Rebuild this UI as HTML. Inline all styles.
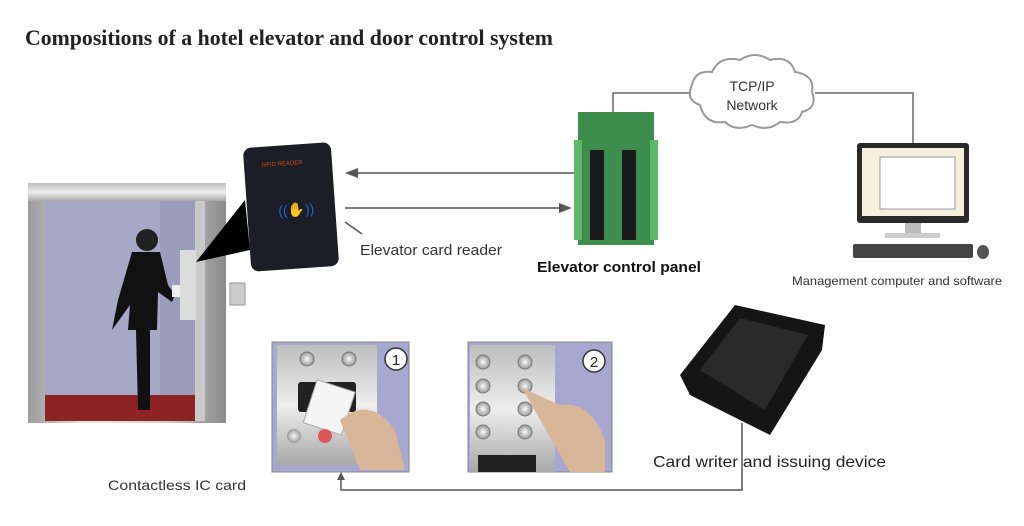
<!DOCTYPE html>
<html><head><meta charset="utf-8"><style>
html,body{margin:0;padding:0;background:#fff;}
svg{display:block;}
text{font-family:"Liberation Sans",sans-serif;}
</style></head><body>
<svg width="1024" height="526" viewBox="0 0 1024 526" xmlns="http://www.w3.org/2000/svg">
<defs>
<linearGradient id="steel" x1="0" x2="1"><stop offset="0" stop-color="#9a9a9a"/><stop offset="0.3" stop-color="#e8e8e8"/><stop offset="0.7" stop-color="#cfcfcf"/><stop offset="1" stop-color="#8a8a8a"/></linearGradient>
<linearGradient id="steelv" x1="0" y1="0" x2="0" y2="1"><stop offset="0" stop-color="#bdbdbd"/><stop offset="0.5" stop-color="#eeeeee"/><stop offset="1" stop-color="#a8a8a8"/></linearGradient>
<radialGradient id="btn"><stop offset="0" stop-color="#fafafa"/><stop offset="1" stop-color="#999"/></radialGradient>
</defs>
<text x="25" y="45" font-weight="bold" font-size="21.8" fill="#222" style="font-family:'Liberation Serif',serif">Compositions of a hotel elevator and door control system</text>

<rect x="28" y="183" width="198" height="240" fill="url(#steel)"/>
<rect x="28" y="183" width="198" height="18" fill="url(#steelv)"/>
<rect x="45" y="201" width="160" height="220" fill="#a7a7c6"/>
<rect x="160" y="201" width="45" height="200" fill="#9b9bbb"/>
<polygon points="45,395 205,395 205,421 45,421" fill="#8e2323"/>
<rect x="195" y="201" width="10" height="220" fill="#c9c9c9"/>
<circle cx="147" cy="240" r="11" fill="#222"/>
<path d="M132 252 L160 252 L168 285 L175 295 L172 302 L158 292 L157 330 L150 330 L150 410 L138 410 L136 330 L128 330 L130 305 L112 330 L118 300 Z" fill="#111"/>
<rect x="180" y="250" width="16" height="70" fill="#dcdcdc"/>
<rect x="172" y="285" width="8" height="12" fill="#eee"/>
<rect x="230" y="283" width="15" height="22" fill="#ccc" stroke="#999"/>
<polygon points="196,262 245,200 250,250" fill="#000"/>
<g transform="rotate(-4 290 207)">
<rect x="247" y="145" width="88" height="124" rx="8" fill="#1b1e26"/>
<text x="265" y="165" font-size="6" fill="#d05010">RFID READER</text>
<text x="278" y="215" font-size="14" fill="#2a5fd0">((✋))</text>
</g>
<line x1="575" y1="173" x2="356" y2="173" stroke="#555" stroke-width="1.5"/>
<polygon points="345,173 358,168 358,178" fill="#555"/>
<line x1="345" y1="208" x2="560" y2="208" stroke="#555" stroke-width="1.5"/>
<polygon points="572,208 559,203 559,213" fill="#555"/>
<line x1="345" y1="222" x2="362" y2="234" stroke="#555" stroke-width="1.5"/>
<text x="360" y="255" font-size="14.8" fill="#333" textLength="142" lengthAdjust="spacingAndGlyphs">Elevator card reader</text>
<rect x="578" y="112" width="76" height="133" fill="#3d8e4d"/>
<rect x="574" y="140" width="8" height="100" fill="#5fb86a"/>
<rect x="650" y="140" width="8" height="100" fill="#5fb86a"/>
<g fill="#1a1a1a"><rect x="590" y="150" width="14" height="90"/><rect x="622" y="150" width="14" height="90"/></g>
<text x="537" y="272" font-size="14.8" font-weight="bold" fill="#111" textLength="164" lengthAdjust="spacingAndGlyphs">Elevator control panel</text>
<polyline points="613,112 613,93 690,93" fill="none" stroke="#666" stroke-width="1.5"/>
<polyline points="815,93 913,93 913,143" fill="none" stroke="#666" stroke-width="1.5"/>
<path d="M700 105 Q685 100 692 85 Q695 70 712 72 Q720 55 740 60 Q755 50 770 60 Q790 55 795 72 Q815 75 812 92 Q818 108 802 112 Q798 125 780 122 Q768 132 752 125 Q735 132 725 122 Q705 125 700 105 Z" fill="#fff" stroke="#999" stroke-width="2"/>
<text x="752" y="91" font-size="14" fill="#333" text-anchor="middle">TCP/IP</text>
<text x="752" y="110" font-size="14" fill="#333" text-anchor="middle">Network</text>
<rect x="857" y="143" width="112" height="80" rx="3" fill="#2a2a2a"/>
<rect x="862" y="148" width="102" height="68" fill="#f4f0dc"/>
<rect x="880" y="157" width="75" height="52" fill="#fff" stroke="#99a"/>
<rect x="905" y="223" width="16" height="12" fill="#bbb"/>
<rect x="885" y="233" width="55" height="5" fill="#ccc"/>
<rect x="853" y="244" width="120" height="14" rx="2" fill="#444"/>
<ellipse cx="983" cy="252" rx="6" ry="7" fill="#555"/>
<text x="792" y="285" font-size="12.4" fill="#333" textLength="210" lengthAdjust="spacingAndGlyphs">Management computer and software</text>
<rect x="272" y="342" width="137" height="130" fill="#a7a7cf" stroke="#888"/>
<rect x="277" y="345" width="100" height="120" fill="url(#steelv)"/>
<circle cx="307" cy="359" r="7" fill="url(#btn)" stroke="#777"/><circle cx="349" cy="359" r="7" fill="url(#btn)" stroke="#777"/>
<rect x="298" y="382" width="58" height="30" rx="3" fill="#222"/>
<rect x="310" y="385" width="40" height="45" fill="#f5f5f5" stroke="#aaa" transform="rotate(18 330 405)"/>
<circle cx="294" cy="436" r="7" fill="url(#btn)"/><circle cx="325" cy="436" r="7" fill="#d55"/>
<path d="M340 420 Q370 395 395 430 L405 470 L360 470 Z" fill="#d8b69a"/>
<circle cx="396" cy="359" r="11" fill="#fff" stroke="#333" stroke-width="1.5"/>
<text x="396" y="365" font-size="15" text-anchor="middle" fill="#222">1</text>
<rect x="468" y="342" width="144" height="130" fill="#a7a7cf" stroke="#888"/>
<rect x="470" y="345" width="85" height="127" fill="url(#steelv)"/>
<g fill="url(#btn)" stroke="#777">
<circle cx="483" cy="362" r="7"/><circle cx="525" cy="362" r="7"/><circle cx="483" cy="386" r="7"/><circle cx="525" cy="386" r="7"/><circle cx="483" cy="409" r="7"/><circle cx="525" cy="409" r="7"/><circle cx="483" cy="432" r="7"/><circle cx="525" cy="432" r="7"/></g>
<rect x="478" y="455" width="58" height="17" fill="#222"/>
<path d="M522 388 L560 405 Q590 400 605 440 L605 472 L570 472 Z" fill="#d8b69a"/>
<circle cx="594" cy="361" r="11" fill="#fff" stroke="#333" stroke-width="1.5"/>
<text x="594" y="367" font-size="15" text-anchor="middle" fill="#222">2</text>
<polygon points="680,375 735,305 825,325 822,350 770,435 690,395" fill="#151515"/>
<polygon points="700,370 740,318 808,335 765,410" fill="#2a2a2a"/>
<text x="653" y="467" font-size="16" fill="#222" textLength="233" lengthAdjust="spacingAndGlyphs">Card writer and issuing device</text>
<text x="108" y="490" font-size="14" fill="#333" textLength="138" lengthAdjust="spacingAndGlyphs">Contactless IC card</text>
<polyline points="742,423 742,490 341,490 341,478" fill="none" stroke="#555" stroke-width="1.5"/>
<polygon points="341,472 337,480 345,480" fill="#555"/>
</svg>
</body></html>
